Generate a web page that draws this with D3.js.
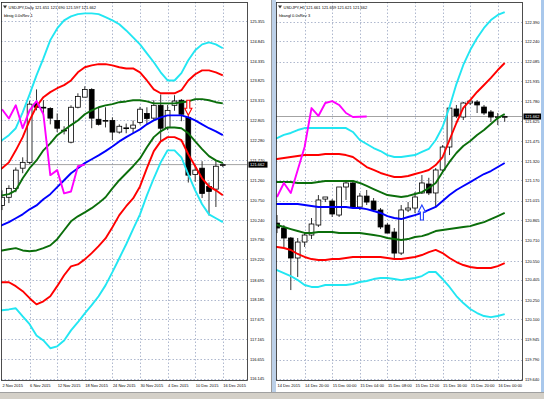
<!DOCTYPE html>
<html>
<head>
<meta charset="utf-8">
<script src="https://cdn.jsdelivr.net/npm/d3@7"></script>
<style>
  html, body { margin: 0; padding: 0; background: #d4d0c8; overflow: hidden; }
  svg { display: block; }
</style>
</head>
<body>
<svg width="544" height="399"></svg>
<script>
// ---------- left chart: USDJPY Daily ----------
const headL = ["USDJPY,Daily  121.651 121.690 121.597 121.662", "bbsig 0.0sRev 1"];
const dateTicksL = ["2 Nov 2015", "6 Nov 2015", "12 Nov 2015", "18 Nov 2015", "24 Nov 2015",
  "30 Nov 2015", "4 Dec 2015", "10 Dec 2015", "16 Dec 2015"];
const priceTicksL = [125.355, 124.845, 124.335, 123.825, 123.315, 122.805, 122.280, 121.770, 121.260,
  120.750, 120.240, 119.730, 119.220, 118.695, 118.185, 117.675, 117.165, 116.655, 116.145];

const openL  = [120.61,120.82,121.05,121.57,121.72,123.24,123.14,123.11,122.80,122.55,122.24,123.14,123.40,123.60,122.83,122.78,122.80,122.50,122.60,122.60,122.75,122.98,122.86,123.19,122.62,123.19,123.32,122.88,121.41,121.57,121.10,121.03,121.651];
const highL  = [121.00,121.13,121.59,121.85,123.30,123.60,123.32,123.14,122.98,122.65,123.19,123.50,123.68,123.63,123.14,123.14,122.88,122.70,122.72,122.80,123.15,123.14,123.32,123.47,123.20,123.45,123.35,122.93,121.65,121.75,121.20,121.78,121.690];
const lowL   = [120.49,120.67,120.95,121.44,121.68,123.06,122.93,122.70,122.50,122.44,122.21,123.11,123.40,122.60,122.67,122.62,122.29,122.46,122.47,122.47,122.70,122.71,122.80,122.26,122.55,123.05,122.78,121.20,121.22,120.80,120.35,120.57,121.597];
const closeL = [120.82,121.05,121.52,121.72,123.22,123.14,123.12,122.86,122.60,122.54,123.14,123.42,123.60,122.86,122.70,122.80,122.50,122.65,122.61,122.68,123.09,122.85,123.19,122.60,123.06,123.30,122.96,121.39,121.52,120.92,120.97,121.62,121.662];

// band lines start one bar before the first candle
const bbUpper3L = [122.19,122.29,122.42,122.60,123.01,123.47,123.96,124.40,124.87,125.17,125.38,125.48,125.54,125.56,125.56,125.54,125.46,125.38,125.28,125.12,124.94,124.76,124.53,124.30,124.04,123.83,123.83,124.02,124.35,124.61,124.76,124.81,124.76,124.66];
const bbUpper2L = [121.46,121.57,121.72,122.03,122.37,122.80,123.16,123.40,123.53,123.63,123.71,123.83,124.04,124.17,124.22,124.25,124.25,124.22,124.17,124.14,124.14,124.04,123.83,123.60,123.50,123.50,123.50,123.58,123.83,123.99,124.09,124.09,124.04,123.96];
const bbUpper1L = [120.85,120.87,120.90,121.00,121.31,121.57,121.77,122.03,122.21,122.42,122.55,122.68,122.80,122.96,123.06,123.14,123.19,123.22,123.27,123.29,123.32,123.32,123.29,123.24,123.24,123.24,123.24,123.27,123.29,123.35,123.35,123.32,123.27,123.24];
const bbMidL    = [120.02,120.10,120.18,120.28,120.38,120.51,120.61,120.77,120.90,121.08,121.26,121.44,121.57,121.70,121.80,121.90,122.01,122.13,122.26,122.37,122.47,122.57,122.70,122.80,122.88,122.93,122.93,122.93,122.88,122.80,122.70,122.60,122.52,122.42];
const bbLower1L = [119.40,119.45,119.48,119.51,119.45,119.43,119.45,119.51,119.58,119.74,119.97,120.20,120.33,120.43,120.54,120.67,120.82,121.05,121.26,121.44,121.62,121.82,122.11,122.37,122.52,122.62,122.62,122.60,122.47,122.26,122.06,121.88,121.77,121.70];
const bbLower2L = [118.58,118.63,118.63,118.53,118.40,118.22,118.06,118.14,118.27,118.53,118.81,119.04,119.09,119.22,119.38,119.56,119.76,120.05,120.36,120.59,120.79,121.10,121.57,122.01,122.26,122.37,122.37,122.29,121.93,121.62,121.31,121.10,121.00,120.87];
const bbLower3L = [117.86,117.91,117.93,117.96,117.75,117.55,117.26,117.13,116.93,116.98,117.13,117.39,117.60,117.83,118.04,118.27,118.55,118.89,119.25,119.61,120.00,120.38,120.87,121.31,121.72,122.03,122.03,121.85,121.41,121.00,120.64,120.38,120.28,120.18];

// ---------- right chart: USDJPY H1 ----------
const headR = ["USDJPY,H1  121.661 121.669 121.621 121.662", "hbangl 0.0sRev 3"];
const dateTicksR = ["14 Dec 2015", "14 Dec 20:00", "15 Dec 00:00", "15 Dec 04:00", "15 Dec 08:00",
  "15 Dec 12:00", "15 Dec 16:00", "15 Dec 20:00", "16 Dec 00:00"];
const priceTicksR = [122.390, 122.240, 122.085, 121.935, 121.780, 121.625, 121.475, 121.320, 121.170,
  121.015, 120.865, 120.710, 120.550, 120.405, 120.250, 120.100, 119.945, 119.790, 119.640];

const openR  = [120.841,120.803,120.726,120.572,120.695,120.749,120.826,121.026,121.011,120.903,121.119,121.150,120.965,121.049,121.011,120.942,120.826,120.772,120.610,120.942,120.957,121.073,121.142,121.073,121.250,121.427,121.720,121.658,121.766,121.774,121.735,121.697,121.658,121.661];
const highR  = [120.903,120.826,120.734,120.726,120.764,120.880,121.057,121.042,121.026,121.119,121.173,121.173,121.073,121.096,121.034,120.957,120.841,120.803,120.980,121.003,121.080,121.211,121.190,121.265,121.442,121.735,121.751,121.774,121.789,121.789,121.751,121.712,121.689,121.669];
const lowR   = [120.764,120.657,120.325,120.426,120.657,120.718,120.811,121.003,120.888,120.888,121.019,120.957,120.942,120.980,120.926,120.795,120.764,120.572,120.595,120.926,120.918,121.065,121.057,120.965,121.235,121.365,121.650,121.635,121.750,121.689,121.674,121.620,121.596,121.621];
const closeR = [120.803,120.726,120.572,120.695,120.749,120.834,121.019,121.042,120.911,121.119,121.150,120.965,121.049,121.003,120.942,120.811,120.764,120.610,120.942,120.957,121.042,121.150,121.073,121.250,121.427,121.727,121.666,121.766,121.781,121.751,121.689,121.658,121.660,121.662];

const bbUpper3R = [121.481,121.496,121.520,121.535,121.558,121.573,121.573,121.573,121.573,121.573,121.573,121.573,121.543,121.481,121.450,121.419,121.396,121.365,121.350,121.350,121.358,121.365,121.389,121.412,121.481,121.581,121.735,121.912,122.059,122.174,122.267,122.344,122.405,122.444,122.467];
const bbUpper2R = [121.327,121.335,121.342,121.350,121.358,121.365,121.365,121.365,121.373,121.373,121.373,121.365,121.350,121.312,121.273,121.250,121.227,121.211,121.196,121.196,121.204,121.219,121.234,121.250,121.288,121.350,121.481,121.612,121.728,121.789,121.851,121.905,121.959,122.020,122.074];
const bbUpper1R = [121.157,121.157,121.157,121.157,121.150,121.150,121.150,121.157,121.165,121.165,121.165,121.165,121.165,121.150,121.127,121.103,121.080,121.057,121.050,121.042,121.050,121.065,121.080,121.111,121.150,121.234,121.312,121.381,121.435,121.473,121.520,121.558,121.604,121.650,121.681];
const bbMidR    = [120.988,120.988,120.988,120.988,120.988,120.980,120.973,120.965,120.965,120.965,120.965,120.965,120.957,120.957,120.949,120.934,120.919,120.895,120.880,120.872,120.888,120.903,120.919,120.942,120.965,121.011,121.057,121.096,121.127,121.157,121.188,121.219,121.242,121.273,121.304];
const bbLower1R = [120.826,120.826,120.811,120.795,120.780,120.765,120.765,120.772,120.772,120.772,120.765,120.765,120.765,120.765,120.757,120.749,120.741,120.726,120.718,120.711,120.718,120.734,120.741,120.757,120.780,120.788,120.795,120.803,120.811,120.818,120.834,120.849,120.872,120.895,120.919];
const bbLower2R = [120.664,120.657,120.649,120.634,120.603,120.580,120.564,120.557,120.557,120.564,120.564,120.572,120.580,120.580,120.580,120.580,120.580,120.572,120.564,120.564,120.572,120.580,120.595,120.618,120.634,120.610,120.572,120.541,120.518,120.503,120.495,120.495,120.495,120.510,120.533];
const bbLower3R = [120.487,120.479,120.456,120.433,120.402,120.364,120.349,120.349,120.364,120.364,120.364,120.364,120.372,120.387,120.395,120.410,120.418,120.418,120.410,120.402,120.410,120.418,120.433,120.464,120.464,120.410,120.349,120.279,120.225,120.179,120.148,120.125,120.117,120.125,120.140];

// signal arrows: bar index and price of the arrow tip/top
const sigDownL = { bar: 27, price: 123.32 };
const sigUpR = { bar: 21, price: 120.98 };

const LAG = 20; // lagging close line is drawn LAG bars back

const svg = d3.select("svg");
const FONT = "'Liberation Sans', Arial, sans-serif";

const drawChart = (c) => {
  const g = svg.append("g");
  const p = c.plot;

  g.append("rect")
    .attr("x", c.panel[0]).attr("y", 0)
    .attr("width", c.panel[1] - c.panel[0]).attr("height", 392)
    .attr("fill", "#fff");

  const x = d3.scaleLinear().domain([0, c.close.length - 1]).range([c.firstX, c.lastX]);
  const y = d3.scaleLinear()
    .domain([c.ticks[0], c.ticks[c.ticks.length - 1]])
    .range([c.tickY[0], c.tickY[1]]);

  const clipId = "clip-" + c.id;
  svg.append("clipPath").attr("id", clipId)
    .append("rect")
    .attr("x", p.x0).attr("y", p.y0)
    .attr("width", p.x1 - p.x0).attr("height", p.y1 - p.y0);

  // dotted grid
  const grid = g.append("g").attr("stroke", "#9aa6c2").attr("stroke-width", 0.8)
    .attr("stroke-dasharray", "1.5,2");
  grid.selectAll("line.h").data(c.ticks).enter().append("line")
    .attr("x1", p.x0).attr("x2", p.x1)
    .attr("y1", (d) => Math.round(y(d)) + 0.5).attr("y2", (d) => Math.round(y(d)) + 0.5);
  const tickBars = c.dateTicks.map((d, i) => i * 4);
  grid.selectAll("line.v").data(tickBars.filter((d) => d > 0)).enter().append("line")
    .attr("x1", (d) => Math.round(x(d)) + 0.5).attr("x2", (d) => Math.round(x(d)) + 0.5)
    .attr("y1", p.y0).attr("y2", p.y1);

  const last = c.close[c.close.length - 1];

  // current price line
  g.append("line")
    .attr("x1", p.x0).attr("x2", p.x1)
    .attr("y1", y(last)).attr("y2", y(last))
    .attr("stroke", "#8c8c8c").attr("stroke-width", 0.8);

  const plot = g.append("g").attr("clip-path", `url(#${clipId})`);

  // candles
  const candles = plot.selectAll("g.candle").data(c.close).enter().append("g");
  candles.append("line")
    .attr("x1", (d, i) => x(i)).attr("x2", (d, i) => x(i))
    .attr("y1", (d, i) => y(c.high[i])).attr("y2", (d, i) => y(c.low[i]))
    .attr("stroke", "#333").attr("stroke-width", 1);
  candles.append("rect")
    .attr("x", (d, i) => x(i) - 2.4)
    .attr("width", 4.8)
    .attr("y", (d, i) => y(Math.max(c.open[i], d)))
    .attr("height", (d, i) => Math.max(0.8, Math.abs(y(c.open[i]) - y(d))))
    .attr("fill", (d, i) => (d >= c.open[i] ? "#fff" : "#000"))
    .attr("stroke", "#000").attr("stroke-width", 0.8);

  // bollinger lines
  const band = d3.line().x((d, i) => x(i - 1)).y((d) => y(d));
  const bands = [
    [c.bb.l3, "#22e6f2"], [c.bb.u3, "#22e6f2"],
    [c.bb.l2, "#ff0000"], [c.bb.u2, "#ff0000"],
    [c.bb.l1, "#0b6e0b"], [c.bb.u1, "#0b6e0b"],
    [c.bb.mid, "#0000ff"]
  ];
  plot.selectAll("path.band").data(bands).enter().append("path")
    .attr("d", (d) => band(d[0]))
    .attr("fill", "none").attr("stroke", (d) => d[1])
    .attr("stroke-width", 1.9).attr("stroke-linejoin", "round");

  // lagging close line
  const lagLine = d3.line().x((d, i) => x(i)).y((d) => y(d));
  plot.append("path")
    .attr("d", lagLine(c.close.slice(LAG)))
    .attr("fill", "none").attr("stroke", "#ff00ff")
    .attr("stroke-width", 1.9).attr("stroke-linejoin", "round");

  // signal arrow
  if (c.sig) {
    const bx = x(c.sig.bar), ty = y(c.sig.price);
    const path = c.sig.dir === "down"
      ? `M${bx - 1.5},${ty}H${bx + 1.5}V${ty + 8}H${bx + 3.6}L${bx},${ty + 15}L${bx - 3.6},${ty + 8}H${bx - 1.5}Z`
      : `M${bx},${ty}L${bx + 3.6},${ty + 7}H${bx + 1.5}V${ty + 15}H${bx - 1.5}V${ty + 7}H${bx - 3.6}Z`;
    plot.append("path").attr("d", path)
      .attr("fill", "#fff").attr("stroke", c.sig.color).attr("stroke-width", 1.1);
  }

  // frame
  g.append("rect")
    .attr("x", p.x0 + 0.5).attr("y", p.y0 + 0.5)
    .attr("width", p.x1 - p.x0).attr("height", p.y1 - p.y0)
    .attr("fill", "none").attr("stroke", "#222").attr("stroke-width", 0.8);

  // price axis
  const yAxis = d3.axisRight(y).tickValues(c.ticks).tickFormat(d3.format(".3f"))
    .tickSize(0).tickPadding(3);
  g.append("g").attr("transform", `translate(${p.x1},0)`).call(yAxis)
    .call((a) => a.select(".domain").remove())
    .selectAll("text")
    .attr("font-family", FONT).attr("font-size", 4).attr("fill", "#000");

  // current price box
  g.append("rect")
    .attr("x", p.x1 + 1.5).attr("y", y(last) - 3)
    .attr("width", 19).attr("height", 6).attr("fill", "#000");
  g.append("text")
    .attr("x", p.x1 + 3).attr("y", y(last)).attr("dy", "0.35em")
    .attr("font-family", FONT).attr("font-size", 4).attr("fill", "#fff")
    .text(d3.format(".3f")(last));

  // time axis
  const xAxis = d3.axisBottom(x).tickValues(tickBars)
    .tickFormat((d, i) => c.dateTicks[i]).tickSize(0).tickPadding(4);
  g.append("g").attr("transform", `translate(0,${p.y1})`).call(xAxis)
    .call((a) => a.select(".domain").remove())
    .selectAll("text")
    .attr("text-anchor", "start")
    .attr("font-family", FONT).attr("font-size", 4).attr("fill", "#000");

  // header
  g.append("path")
    .attr("d", `M${p.x0 + 2},${p.y0 + 3.5}h4l-2,3z`).attr("fill", "#333");
  g.selectAll("text.head").data(c.head).enter().append("text")
    .attr("x", (d, i) => p.x0 + (i === 0 ? 7.5 : 3))
    .attr("y", (d, i) => p.y0 + 6.6 + i * 8.3)
    .attr("font-family", FONT).attr("font-size", 4).attr("fill", "#000")
    .text((d) => d);
};

drawChart({
  id: "L", panel: [0, 271],
  plot: { x0: 1, x1: 247, y0: 2, y1: 380 },
  firstX: 2, lastX: 222.8,
  ticks: priceTicksL, tickY: [21.3, 378.7],
  dateTicks: dateTicksL, head: headL,
  open: openL, high: highL, low: lowL, close: closeL,
  bb: { u3: bbUpper3L, u2: bbUpper2L, u1: bbUpper1L, mid: bbMidL, l1: bbLower1L, l2: bbLower2L, l3: bbLower3L },
  sig: { bar: sigDownL.bar, price: sigDownL.price, dir: "down", color: "#ff0000" }
});

drawChart({
  id: "R", panel: [276, 541],
  plot: { x0: 276, x1: 522, y0: 2, y1: 380 },
  firstX: 277, lastX: 504.7,
  ticks: priceTicksR, tickY: [22, 379],
  dateTicks: dateTicksR, head: headR,
  open: openR, high: highR, low: lowR, close: closeR,
  bb: { u3: bbUpper3R, u2: bbUpper2R, u1: bbUpper1R, mid: bbMidR, l1: bbLower1R, l2: bbLower2R, l3: bbLower3R },
  sig: { bar: sigUpR.bar, price: sigUpR.price, dir: "up", color: "#1e3cff" }
});

// window chrome between and around the panels
svg.append("rect").attr("x", 271).attr("y", 0).attr("width", 5).attr("height", 392).attr("fill", "#bcd0e8");
svg.append("line").attr("x1", 271.5).attr("x2", 271.5).attr("y1", 0).attr("y2", 392).attr("stroke", "#9a9a9a");
svg.append("rect").attr("x", 541).attr("y", 0).attr("width", 3).attr("height", 392).attr("fill", "#a9c8ec");
svg.append("rect").attr("x", 0).attr("y", 392).attr("width", 544).attr("height", 7).attr("fill", "#d4d0c8");
svg.append("line").attr("x1", 0).attr("x2", 544).attr("y1", 392.5).attr("y2", 392.5).attr("stroke", "#a0a0a0");
</script>
</body>
</html>
